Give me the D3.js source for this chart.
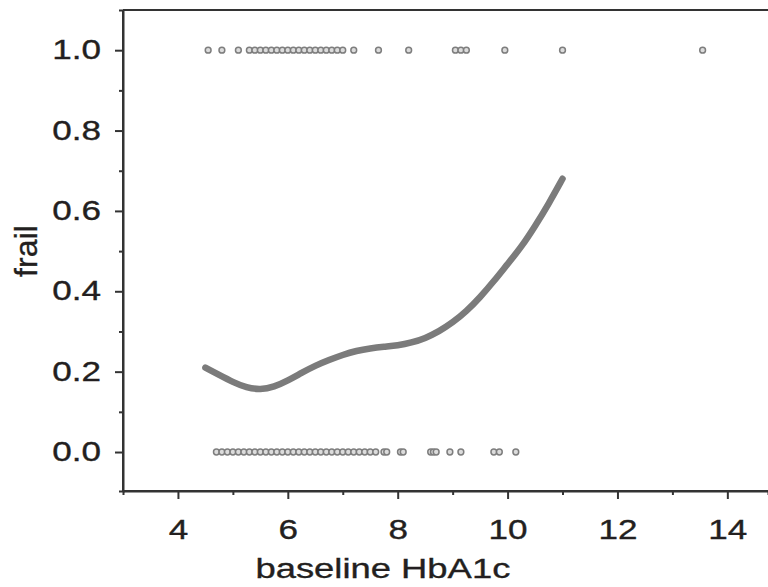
<!DOCTYPE html>
<html>
<head>
<meta charset="utf-8">
<script src="https://cdn.jsdelivr.net/npm/d3@7"></script>
<style>
  body { margin: 0; background: #fff; }
  svg text { font-family: "Liberation Sans", Arial, sans-serif; fill: #231f20; stroke: #231f20; stroke-width: 0.35px; }
</style>
</head>
<body>
<div id="chart"></div>
<script>
// HbA1c of frail patients (frail = 1)
const frailX = [4.55, 4.8, 5.1, 5.3, 5.4, 5.5, 5.6, 5.7, 5.8, 5.9, 6.0, 6.1, 6.2, 6.3, 6.4, 6.5,
    6.6, 6.7, 6.8, 6.9, 7.0, 7.2, 7.65, 8.2, 9.05, 9.15, 9.25, 9.95, 11.0, 13.55];
// HbA1c of non-frail patients (frail = 0)
const nonFrailX = [4.7, 4.8, 4.9, 5.0, 5.1, 5.2, 5.3, 5.4, 5.5, 5.6, 5.7, 5.8, 5.9, 6.0, 6.1, 6.2,
    6.3, 6.4, 6.5, 6.6, 6.7, 6.8, 6.9, 7.0, 7.1, 7.2, 7.3, 7.4, 7.5, 7.6, 7.75, 7.8, 8.05, 8.1,
    8.6, 8.65, 8.7, 8.95, 9.15, 9.75, 9.85, 10.15];
// smoothed probability curve
const curveX = [4.5, 4.75, 5.0, 5.25, 5.5, 5.75, 6.0, 6.25, 6.5, 6.75, 7.0, 7.25, 7.5, 7.75,
    8.0, 8.25, 8.5, 8.75, 9.0, 9.25, 9.5, 9.75, 10.0, 10.25, 10.5, 10.75, 11.0];
const curveY = [0.21, 0.192, 0.174, 0.16, 0.155, 0.162, 0.178, 0.197, 0.215, 0.229, 0.242, 0.252,
    0.258, 0.262, 0.265, 0.272, 0.283, 0.3, 0.322, 0.35, 0.385, 0.425, 0.468, 0.51, 0.562, 0.618, 0.68];
const xTicks = [4, 6, 8, 10, 12, 14];
const yTicks = [0.0, 0.2, 0.4, 0.6, 0.8, 1.0];

const width = 768, height = 587;
const margin = { top: 10, right: 0, bottom: 96, left: 123 };
const stretch = 1.3; // text in the picture is drawn wider than tall

const svg = d3.select("#chart").append("svg")
    .attr("width", width)
    .attr("height", height);

const x = d3.scaleLinear().domain([3, 14.74]).range([margin.left, width - margin.right]);
const y = d3.scaleLinear().domain([-0.097, 1.1]).range([height - margin.bottom, margin.top]);

// curve
const line = d3.line()
    .x((d, i) => x(curveX[i]))
    .y(d => y(d))
    .curve(d3.curveBasis);
svg.append("path")
    .datum(curveY)
    .attr("d", line)
    .attr("fill", "none")
    .attr("stroke", "#7b7b7b")
    .attr("stroke-width", 6.5)
    .attr("stroke-linecap", "round");

// points
const pts = frailX.map(v => ({ x: v, y: 1 })).concat(nonFrailX.map(v => ({ x: v, y: 0 })));
svg.selectAll("circle")
    .data(pts)
    .enter()
    .append("circle")
    .attr("cx", d => x(d.x))
    .attr("cy", d => y(d.y))
    .attr("r", 2.9)
    .attr("fill", "#dcdcdc")
    .attr("stroke", "#7e7e7e")
    .attr("stroke-width", 1.5);

// axes
const xAxis = svg.append("g")
    .attr("transform", `translate(0,${height - margin.bottom})`)
    .call(d3.axisBottom(x).tickValues(xTicks).tickFormat(d3.format("d")).tickSize(8).tickPadding(21));
xAxis.append("g")
    .call(d3.axisBottom(x).tickValues([5, 7, 9, 11, 13]).tickFormat("").tickSize(4));

const yAxis = svg.append("g")
    .attr("transform", `translate(${margin.left},0)`)
    .call(d3.axisLeft(y).tickValues(yTicks).tickFormat(d3.format(".1f")).tickSize(8).tickPadding(13));
yAxis.append("g")
    .call(d3.axisLeft(y).tickValues([0.1, 0.3, 0.5, 0.7, 0.9]).tickFormat("").tickSize(4));

svg.selectAll(".domain").attr("stroke", "#333").attr("stroke-width", 2);
svg.selectAll(".tick line").attr("stroke", "#333").attr("stroke-width", 2);
svg.selectAll(".tick text").attr("font-size", 27).attr("transform", `scale(${stretch},1)`);
yAxis.selectAll(".tick text").attr("x", -22 / stretch);
xAxis.select(".domain").attr("d", `M${margin.left},0H${width}`);
yAxis.select(".domain").attr("d", `M0,${height - margin.bottom}V${margin.top}`);

// top border
svg.append("line")
    .attr("x1", margin.left).attr("x2", width)
    .attr("y1", margin.top).attr("y2", margin.top)
    .attr("stroke", "#333").attr("stroke-width", 2);

// labels
svg.append("text")
    .attr("transform", `translate(${x(7.73)},578) scale(${stretch},1)`)
    .attr("text-anchor", "middle")
    .attr("font-size", 28)
    .text("baseline HbA1c");

svg.append("text")
    .attr("transform", `translate(37,${y(0.5)}) rotate(-90)`)
    .attr("text-anchor", "middle")
    .attr("font-size", 32)
    .text("frail");
</script>
</body>
</html>
